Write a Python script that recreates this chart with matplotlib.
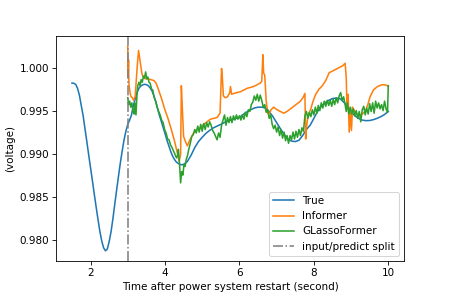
import matplotlib
matplotlib.use("Agg")
import matplotlib.pyplot as plt

# ---- data ----
true_t = [1.50, 1.55, 1.60, 1.65, 1.70, 1.75, 1.80, 1.85, 1.90, 1.95, 2.00, 2.05, 2.10, 2.15, 2.20,
          2.25, 2.30, 2.35, 2.40, 2.45, 2.50, 2.55, 2.60, 2.65, 2.70, 2.75, 2.80, 2.85, 2.90, 2.95,
          3.00, 3.05, 3.10, 3.15, 3.20, 3.25, 3.30, 3.35, 3.40, 3.45, 3.50, 3.55, 3.60, 3.65, 3.70,
          3.75, 3.80, 3.85, 3.90, 3.95, 4.00, 4.05, 4.10, 4.15, 4.20, 4.25, 4.30, 4.35, 4.40, 4.45,
          4.50, 4.55, 4.60, 4.70, 4.80, 4.90, 5.00, 5.10, 5.20, 5.30, 5.40, 5.50, 5.60, 5.70, 5.80,
          5.90, 6.00, 6.10, 6.20, 6.30, 6.40, 6.50, 6.60, 6.70, 6.80, 6.90, 7.00, 7.10, 7.20, 7.30,
          7.40, 7.50, 7.60, 7.70, 7.80, 7.90, 8.00, 8.10, 8.20, 8.30, 8.40, 8.50, 8.60, 8.70, 8.80,
          8.90, 9.00, 9.10, 9.20, 9.30, 9.40, 9.50, 9.60, 9.70, 9.80, 9.90, 10.00]
true_v = [0.99830, 0.99828, 0.99815, 0.99770, 0.99690, 0.99570, 0.99453, 0.99300, 0.99150, 0.98995,
          0.98845, 0.98695, 0.98540, 0.98390, 0.98245, 0.98107, 0.97995, 0.97915, 0.97880, 0.97900,
          0.97985, 0.98100, 0.98250, 0.98419, 0.98585, 0.98745, 0.98900, 0.99040, 0.99170, 0.99270,
          0.99350, 0.99400, 0.99460, 0.99570, 0.99645, 0.99720, 0.99770, 0.99795, 0.99810, 0.99816,
          0.99812, 0.99800, 0.99775, 0.99740, 0.99685, 0.99615, 0.99535, 0.99455, 0.99387, 0.99315,
          0.99245, 0.99170, 0.99105, 0.99040, 0.98985, 0.98945, 0.98915, 0.98897, 0.98885, 0.98880,
          0.98885, 0.98900, 0.98918, 0.98990, 0.99080, 0.99150, 0.99200, 0.99245, 0.99280, 0.99309,
          0.99330, 0.99350, 0.99372, 0.99390, 0.99404, 0.99420, 0.99430, 0.99465, 0.99495, 0.99520,
          0.99540, 0.99550, 0.99550, 0.99540, 0.99500, 0.99440, 0.99370, 0.99300, 0.99235, 0.99180,
          0.99155, 0.99150, 0.99165, 0.99220, 0.99290, 0.99340, 0.99420, 0.99500, 0.99560, 0.99600,
          0.99630, 0.99650, 0.99656, 0.99650, 0.99610, 0.99560, 0.99500, 0.99450, 0.99420, 0.99400,
          0.99393, 0.99395, 0.99405, 0.99420, 0.99440, 0.99465, 0.99500]

informer_t = [3.00, 3.01, 3.02, 3.03, 3.05, 3.08, 3.12, 3.16, 3.20, 3.25, 3.29, 3.32, 3.35, 3.38,
              3.42, 3.47, 3.55, 3.62, 3.70, 3.76, 3.82, 3.90, 3.99, 4.08, 4.17, 4.26, 4.33, 4.38,
              4.42, 4.44, 4.46, 4.50, 4.55, 4.60, 4.68, 4.77, 4.86, 4.95, 5.04, 5.13, 5.22, 5.31,
              5.40, 5.48, 5.52, 5.54, 5.57, 5.62, 5.68, 5.74, 5.76, 5.79, 5.85, 5.94, 6.03, 6.12,
              6.21, 6.30, 6.38, 6.47, 6.56, 6.60, 6.63, 6.65, 6.68, 6.72, 6.76, 6.80, 6.85, 6.92,
              7.01, 7.10, 7.19, 7.28, 7.37, 7.46, 7.55, 7.64, 7.72, 7.76, 7.78, 7.80, 7.84, 7.91,
              7.98, 8.05, 8.14, 8.23, 8.32, 8.41, 8.50, 8.59, 8.68, 8.77, 8.84, 8.87, 8.89, 8.92,
              8.95, 8.98, 9.01, 9.04, 9.10, 9.20, 9.30, 9.38, 9.45, 9.51, 9.60, 9.71, 9.82, 9.91,
              9.97, 10.00]
informer_v = [1.0026, 0.9990, 1.0010, 0.9984, 0.9975, 0.9968, 0.9966, 0.9963, 0.9968, 1.0000,
              1.0021, 1.0012, 1.0003, 0.9994, 0.9990, 0.9988, 0.9988, 0.9987, 0.9986, 0.9983,
              0.9976, 0.9966, 0.9953, 0.9942, 0.9929, 0.9915, 0.9902, 0.9892, 0.9900, 0.9980,
              0.9960, 0.9921, 0.9915, 0.9910, 0.9918, 0.9925, 0.9929, 0.9931, 0.9935, 0.9938,
              0.9941, 0.9942, 0.9943, 0.9948, 1.0000, 0.9990, 0.9968, 0.9966, 0.9967, 0.9972,
              0.9979, 0.9970, 0.9971, 0.9972, 0.9973, 0.9975, 0.9977, 0.9978, 0.9979, 0.9981,
              0.9983, 0.9985, 1.0016, 0.9995, 0.9992, 0.9962, 0.9948, 0.9947, 0.9952, 0.9955,
              0.9952, 0.9950, 0.9948, 0.9950, 0.9953, 0.9956, 0.9959, 0.9962, 0.9967, 0.9971,
              0.9918, 0.9930, 0.9945, 0.9952, 0.9962, 0.9970, 0.9976, 0.9980, 0.9986, 0.9995,
              0.9997, 0.9999, 1.0001, 1.0003, 1.0006, 0.9990, 0.9955, 0.9970, 0.9926, 0.9950,
              0.9928, 0.9955, 0.9950, 0.9945, 0.9947, 0.9950, 0.9958, 0.9967, 0.9975, 0.9979,
              0.9981, 0.9981, 0.9980, 0.9979]

glasso_t = [3.00, 3.02, 3.05, 3.08, 3.11, 3.14, 3.17, 3.19, 3.22, 3.25, 3.27, 3.30, 3.33, 3.36,
            3.39, 3.42, 3.45, 3.48, 3.51, 3.54, 3.57, 3.60, 3.64, 3.67, 3.71, 3.75, 3.79, 3.83,
            3.87, 3.91, 3.95, 3.99, 4.03, 4.07, 4.11, 4.15, 4.19, 4.23, 4.27, 4.31, 4.34, 4.36,
            4.39, 4.42, 4.45, 4.48, 4.51, 4.54, 4.57, 4.60, 4.64, 4.68, 4.72, 4.76, 4.80, 4.84,
            4.88, 4.92, 4.96, 5.00, 5.04, 5.08, 5.12, 5.16, 5.20, 5.24, 5.28, 5.32, 5.36, 5.40,
            5.44, 5.48, 5.52, 5.56, 5.60, 5.64, 5.68, 5.72, 5.76, 5.80, 5.84, 5.88, 5.92, 5.96,
            6.00, 6.04, 6.08, 6.12, 6.16, 6.20, 6.24, 6.28, 6.32, 6.36, 6.40, 6.44, 6.48, 6.52,
            6.56, 6.60, 6.64, 6.68, 6.72, 6.76, 6.80, 6.84, 6.88, 6.92, 6.96, 7.00, 7.04, 7.08,
            7.12, 7.16, 7.20, 7.24, 7.28, 7.32, 7.36, 7.40, 7.44, 7.48, 7.52, 7.56, 7.60, 7.64,
            7.68, 7.72, 7.76, 7.80, 7.84, 7.88, 7.92, 7.96, 8.00, 8.04, 8.08, 8.12, 8.16, 8.20,
            8.24, 8.28, 8.32, 8.36, 8.40, 8.44, 8.48, 8.52, 8.56, 8.60, 8.64, 8.68, 8.72, 8.76,
            8.80, 8.84, 8.87, 8.90, 8.94, 8.98, 9.02, 9.06, 9.10, 9.14, 9.18, 9.22, 9.26, 9.30,
            9.34, 9.38, 9.42, 9.46, 9.50, 9.54, 9.58, 9.62, 9.66, 9.70, 9.74, 9.78, 9.82, 9.86,
            9.90, 9.94, 9.98, 10.00]
glasso_v = [0.9966, 0.9958, 0.9962, 0.9955, 0.9960, 0.9950, 0.9947, 0.9960, 0.9946, 0.9972,
            0.9980, 0.9984, 0.9980, 0.9987, 0.9984, 0.9991, 0.9989, 0.9996, 0.9988, 0.9990,
            0.9984, 0.9983, 0.9976, 0.9975, 0.9966, 0.9962, 0.9955, 0.9950, 0.9946, 0.9940,
            0.9937, 0.9929, 0.9925, 0.9918, 0.9917, 0.9911, 0.9908, 0.9904, 0.9900, 0.9896,
            0.9899, 0.9906, 0.9890, 0.9867, 0.9880, 0.9876, 0.9888, 0.9886, 0.9894, 0.9898,
            0.9906, 0.9913, 0.9921, 0.9923, 0.9929, 0.9925, 0.9933, 0.9926, 0.9935, 0.9927,
            0.9936, 0.9929, 0.9937, 0.9932, 0.9938, 0.9934, 0.9928, 0.9925, 0.9921, 0.9917,
            0.9925, 0.9920, 0.9934, 0.9940, 0.9946, 0.9934, 0.9943, 0.9937, 0.9944, 0.9937,
            0.9945, 0.9940, 0.9946, 0.9941, 0.9945, 0.9940, 0.9946, 0.9941, 0.9949, 0.9944,
            0.9952, 0.9950, 0.9958, 0.9961, 0.9968, 0.9963, 0.9970, 0.9962, 0.9969, 0.9963,
            0.9955, 0.9958, 0.9949, 0.9952, 0.9942, 0.9946, 0.9935, 0.9930, 0.9934, 0.9926,
            0.9932, 0.9922, 0.9929, 0.9919, 0.9926, 0.9916, 0.9922, 0.9913, 0.9922, 0.9917,
            0.9926, 0.9918, 0.9927, 0.9920, 0.9929, 0.9922, 0.9931, 0.9927, 0.9945, 0.9950,
            0.9942, 0.9949, 0.9944, 0.9952, 0.9946, 0.9955, 0.9948, 0.9957, 0.9951, 0.9960,
            0.9954, 0.9962, 0.9956, 0.9963, 0.9957, 0.9963, 0.9956, 0.9964, 0.9958, 0.9966,
            0.9960, 0.9968, 0.9972, 0.9963, 0.9967, 0.9958, 0.9950, 0.9960, 0.9947, 0.9955,
            0.9947, 0.9953, 0.9945, 0.9951, 0.9942, 0.9950, 0.9938, 0.9952, 0.9956, 0.9946,
            0.9954, 0.9947, 0.9959, 0.9950, 0.9960, 0.9948, 0.9962, 0.9954, 0.9960, 0.9953,
            0.9958, 0.9951, 0.9962, 0.9953, 0.9949, 0.9980]

split_t = 3.0
labels = ["True", "Informer", "GLassoFormer", "input/predict split"]

# ---- plot ----
fig = plt.figure(figsize=(449 / 75, 299 / 75), dpi=75)
ax = fig.add_subplot(111)
fig.subplots_adjust(left=0.125, right=0.9, top=0.88, bottom=0.127)

ax.plot(true_t, true_v, color="#1f77b4", label=labels[0])
ax.plot(informer_t, informer_v, color="#ff7f0e", label=labels[1])
ax.plot(glasso_t, glasso_v, color="#2ca02c", label=labels[2])
ax.axvline(split_t, color="gray", linestyle="-.", label=labels[3])

ax.set_xlabel("Time after power system restart (second)")
ax.set_ylabel("(voltage)")
ax.legend(loc="lower right")

fig.savefig("out.png", dpi=75)
